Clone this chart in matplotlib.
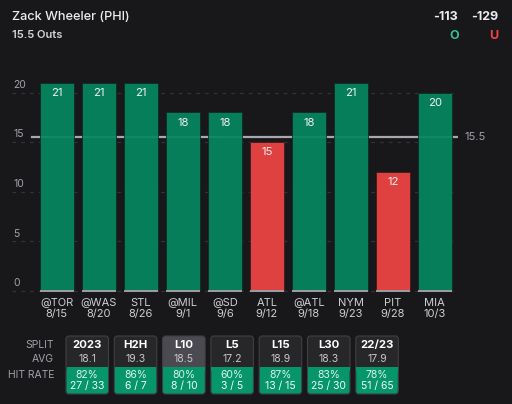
import matplotlib
matplotlib.use("Agg")
import matplotlib.pyplot as plt
from matplotlib.patches import FancyBboxPatch, Rectangle

# ---- data ----
opponents = ["@TOR", "@WAS", "STL", "@MIL", "@SD", "ATL", "@ATL", "NYM", "PIT", "MIA"]
dates = ["8/15", "8/20", "8/26", "9/1", "9/6", "9/12", "9/18", "9/23", "9/28", "10/3"]
outs = [21, 21, 21, 18, 18, 15, 18, 21, 12, 20]
line_value = 15.5
yticks = [0, 5, 10, 15, 20]

player = "Zack Wheeler (PHI)"
market = "15.5 Outs"
over_odds = "-113"
under_odds = "-129"

splits = ["2023", "H2H", "L10", "L5", "L15", "L30", "22/23"]
split_avg = ["18.1", "19.3", "18.5", "17.2", "18.9", "18.3", "17.9"]
hit_pct = ["82%", "86%", "80%", "60%", "87%", "83%", "78%"]
hit_frac = ["27 / 33", "6 / 7", "8 / 10", "3 / 5", "13 / 15", "25 / 30", "51 / 65"]
selected_split = "L10"

plt.rcParams["font.family"] = ["Inter", "DejaVu Sans"]

# ---- style ----
BG = "#18181b"
GREEN = "#05875f"
RED = "#ef4444"
CARD_GREEN = "#06966a"
W, H = 512, 404

fig = plt.figure(figsize=(W / 100, H / 100), dpi=100, facecolor=BG)

# main axes placed in pixel coordinates
ax_left, ax_right = 12, 458
ylo, yhi = -0.3, 21.5
px_per_unit = 9.91
ax_bottom_px = 290.7 + 0.3 * px_per_unit
ax_h_px = (yhi - ylo) * px_per_unit
ax = fig.add_axes([ax_left / W, (H - ax_bottom_px) / H, (ax_right - ax_left) / W, ax_h_px / H])
ax.set_facecolor(BG)

x = list(range(len(outs)))
colors = [GREEN if v > line_value else RED for v in outs]

for v in yticks:
    ax.axhline(v, color="#323238", lw=0.9, ls=(0, (3, 4)), zorder=0)
    ax.annotate(str(v), xy=(0, v), xycoords=ax.get_yaxis_transform(),
                xytext=(1, 5.5), textcoords="offset points", ha="left", va="center",
                color="#a1a1aa", fontsize=7.5)

ax.axhline(line_value, xmin=(32 - ax_left) / (ax_right - ax_left), xmax=1.0,
           color="#a8a8ad", lw=1.6, zorder=1)
ax.annotate(f"{line_value}", xy=(1, line_value), xycoords=ax.get_yaxis_transform(),
            xytext=(5, 0), textcoords="offset points", ha="left", va="center",
            color="#a1a1aa", fontsize=8)

bars = ax.bar(x, outs, width=0.8, color=colors, edgecolor="#0e2a20", linewidth=0.6,
              alpha=0.93, zorder=2)
for b, c in zip(bars, colors):
    if c == RED:
        b.set_edgecolor("#3a1a1a")
ax.bar(x, [0.22] * len(outs), bottom=-0.12, width=0.8, color="#9a9aa0", zorder=3)

for xi, v in zip(x, outs):
    ax.annotate(str(v), xy=(xi, v), xytext=(0, -7.5), textcoords="offset points",
                ha="center", va="center", color="#f0f0f0", fontsize=8.2, zorder=4)

ax.set_xlim((ax_left - 56.8) / 42, (ax_right - 56.8) / 42)
ax.set_ylim(ylo, yhi)
ax.set_xticks(x)
ax.set_xticklabels([f"{o}\n{d}" for o, d in zip(opponents, dates)],
                   color="#cfcfd3", fontsize=8, linespacing=1.15)
ax.tick_params(axis="x", length=0, pad=3)
ax.set_yticks([])
for s in ax.spines.values():
    s.set_visible(False)

# overlay axes in pixel coordinates for header and split table
ov = fig.add_axes([0, 0, 1, 1], facecolor="none")
ov.set_xlim(0, W)
ov.set_ylim(H, 0)
ov.axis("off")

ov.text(12, 17, player, color="#ececee", fontsize=9.2, ha="left", va="center", fontweight="medium")
ov.text(12, 35, market, color="#d4d4d8", fontsize=8, ha="left", va="center", fontweight="semibold")
ov.text(458, 17, over_odds, color="#ececee", fontsize=9, ha="right", va="center", fontweight="bold")
ov.text(498, 17, under_odds, color="#ececee", fontsize=9, ha="right", va="center", fontweight="bold")
ov.text(454, 36, "O", color="#34c38f", fontsize=9, ha="center", va="center", fontweight="bold")
ov.text(494, 36, "U", color="#ef4444", fontsize=9, ha="center", va="center", fontweight="bold")

ov.text(54, 345, "SPLIT", color="#a1a1aa", fontsize=7.5, ha="right", va="center")
ov.text(54, 359.5, "AVG", color="#a1a1aa", fontsize=7.5, ha="right", va="center")
ov.text(54, 375, "HIT RATE", color="#a1a1aa", fontsize=7.5, ha="right", va="center")

card_w, card_top, card_bot, green_top = 42.5, 336, 394, 367.3
for i, (sp, av, pc, fr) in enumerate(zip(splits, split_avg, hit_pct, hit_frac)):
    cx0 = 66 + i * 48.3
    top_col = "#4a4a50" if sp == selected_split else "#27272a"
    ov.add_patch(FancyBboxPatch((cx0, card_top), card_w, card_bot - card_top,
                                boxstyle="round,pad=0,rounding_size=3",
                                facecolor=top_col, edgecolor="#3f3f46", lw=0.8))
    ov.add_patch(FancyBboxPatch((cx0 + 0.5, green_top), card_w - 1, card_bot - green_top - 0.5,
                                boxstyle="round,pad=0,rounding_size=2.5",
                                facecolor=CARD_GREEN, edgecolor="none"))
    ov.add_patch(Rectangle((cx0 + 0.5, green_top), card_w - 1, 4,
                           facecolor=CARD_GREEN, edgecolor="none"))
    cx = cx0 + card_w / 2
    ov.text(cx, 345, sp, color="#ffffff", fontsize=8.2, ha="center", va="center", fontweight="bold")
    ov.text(cx, 359.5, av, color="#c8c8cc", fontsize=7.5, ha="center", va="center")
    ov.text(cx, 375.5, pc, color="#d8f3e8", fontsize=7.5, ha="center", va="center")
    ov.text(cx, 386.5, fr, color="#f0fff8", fontsize=7.5, ha="center", va="center")

fig.savefig("out.png", dpi=100, facecolor=BG)
